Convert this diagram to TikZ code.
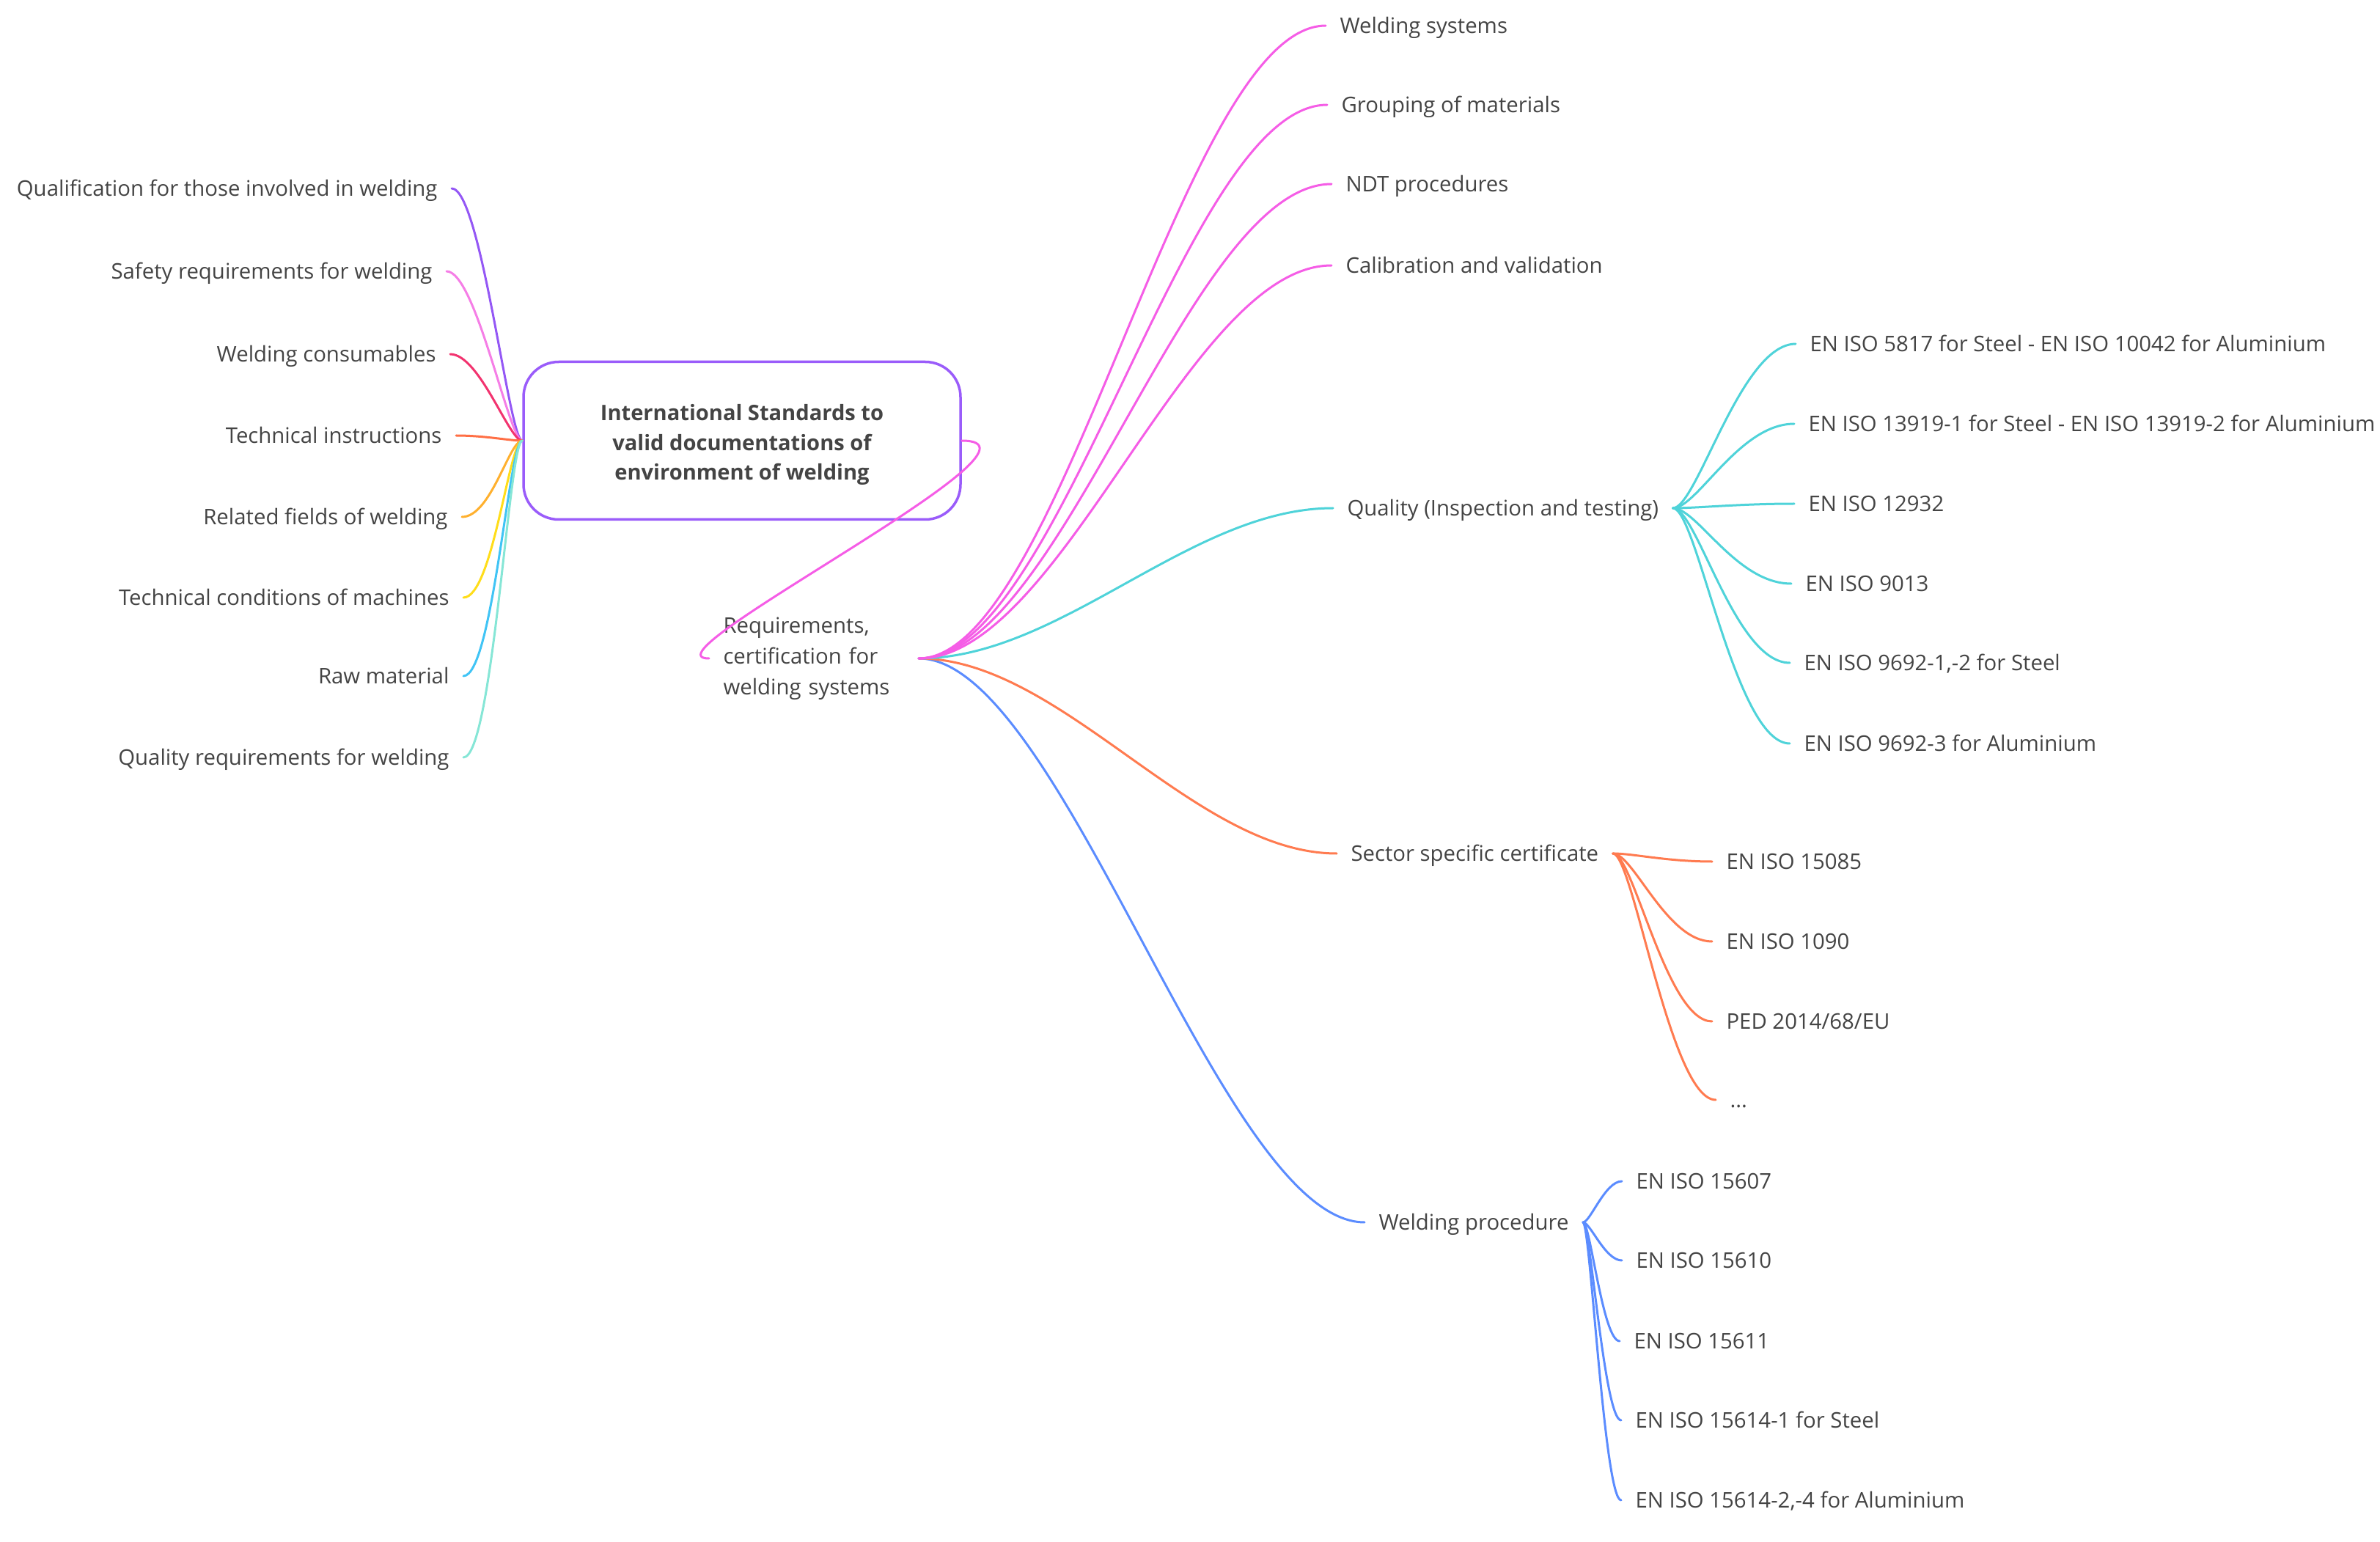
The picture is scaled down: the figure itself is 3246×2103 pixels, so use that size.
\documentclass[tikz,border=0pt]{standalone}
\usepackage{fontspec}
\setmainfont{Open Sans}
\usepackage{tikz}

\definecolor{ink}{HTML}{444444}
\definecolor{boxline}{HTML}{9A5CFA}
\definecolor{cPurple}{HTML}{9457F5}
\definecolor{cPink}{HTML}{F57EE6}
\definecolor{cCrimson}{HTML}{F2336F}
\definecolor{cRed}{HTML}{FF6F45}
\definecolor{cOrange}{HTML}{FFB02E}
\definecolor{cYellow}{HTML}{FFDD1A}
\definecolor{cSky}{HTML}{40C4F5}
\definecolor{cAqua}{HTML}{86E6D6}
\definecolor{cMagenta}{HTML}{F55DE6}
\definecolor{cCyan}{HTML}{4FD3D9}
\definecolor{cCoral}{HTML}{FF7B50}
\definecolor{cBlue}{HTML}{5B8CFF}

\begin{document}
\begin{tikzpicture}[x=0.1mm,y=-0.1mm,
  every node/.style={font=\fontsize{8.35}{11.95}\selectfont, text=ink, inner ysep=0pt, inner xsep=1.8mm},
  leaf/.style={text height=6pt, text depth=0pt},
  bough/.style={out=0,in=180,out distance=19.5mm,in distance=19.5mm},
  twig/.style 2 args={out=0,in=180,out distance=#1,in distance=#2},
  back/.style 2 args={out=180,in=0,out distance=#1,in distance=#2},
  line width=0.3mm, line cap=round]

\useasboundingbox (0,0) rectangle (3246,2103);

% central topic
\node (root) [draw=boxline, line width=0.35mm, rounded corners=4.8mm,
  minimum width=59.6mm, minimum height=21.5mm, align=center,
  font=\bfseries\fontsize{8.28}{11.6}\selectfont] at (1012,601)
  {\rule{0pt}{9.5pt}International Standards to\\valid documentations of\\environment of welding};

% left side
\node (qual)     [leaf,anchor=east] at (616,257)  {Qualification for those involved in welding};
\node (safety)   [leaf,anchor=east] at (609,370)  {Safety requirements for welding};
\node (consum)   [leaf,anchor=east] at (614,483)  {Welding consumables};
\node (techinst) [leaf,anchor=east] at (622,594)  {Technical instructions};
\node (related)  [leaf,anchor=east] at (630,705)  {Related fields of welding};
\node (techcond) [leaf,anchor=east] at (632,815)  {Technical conditions of machines};
\node (raw)      [leaf,anchor=east] at (632,922)  {Raw material};
\node (qualreq)  [leaf,anchor=east] at (632,1033) {Quality requirements for welding};

\foreach \n/\c in {qual/cPurple,safety/cPink,consum/cCrimson,techinst/cRed,
                   related/cOrange,techcond/cYellow,raw/cSky,qualreq/cAqua}
    \draw[\c] (root.west) to[back={1.8mm}{4mm}] (\n.east);

% right side
\node (req) [anchor=west, text width=24.7mm, align=left] at (967,898)
  {Requirements,\\certification for\\welding systems};
\draw[cMagenta] (root.east) to[out=0,in=180,out distance=15mm,in distance=10mm] (req.west);

\node (wsys)    [leaf,anchor=west] at (1808,35)   {Welding systems};
\node (group)   [leaf,anchor=west] at (1810,143)  {Grouping of materials};
\node (ndt)     [leaf,anchor=west] at (1816,251)  {NDT procedures};
\node (calib)   [leaf,anchor=west] at (1816,362)  {Calibration and validation};
\node (quality) [leaf,anchor=west] at (1818,693)  {Quality (Inspection and testing)};
\node (sector)  [leaf,anchor=west] at (1823,1164) {Sector specific certificate};
\node (wproc)   [leaf,anchor=west] at (1861,1667) {Welding procedure};

\draw[cBlue]  (req.east) to[bough] (wproc.west);
\draw[cCoral] (req.east) to[bough] (sector.west);
\draw[cCyan]  (req.east) to[bough] (quality.west);
\foreach \n in {wsys,group,ndt,calib}
    \draw[cMagenta] (req.east) to[bough] (\n.west);

% quality
\node (q5817)   [leaf,anchor=west] at (2449,469)  {EN ISO 5817 for Steel - EN ISO 10042 for Aluminium};
\node (q13919)  [leaf,anchor=west] at (2447,578)  {EN ISO 13919-1 for Steel - EN ISO 13919-2 for Aluminium};
\node (q12932)  [leaf,anchor=west] at (2447,687)  {EN ISO 12932};
\node (q9013)   [leaf,anchor=west] at (2443,796)  {EN ISO 9013};
\node (q9692a)  [leaf,anchor=west] at (2441,904)  {EN ISO 9692-1,-2 for Steel};
\node (q9692b)  [leaf,anchor=west] at (2441,1014) {EN ISO 9692-3 for Aluminium};

\foreach \n in {q5817,q13919,q12932,q9013,q9692a,q9692b}
    \draw[cCyan] (quality.east) to[twig={3.3mm}{7.5mm}] (\n.west);

% sector
\node (s15085) [leaf,anchor=west] at (2335,1175) {EN ISO 15085};
\node (s1090)  [leaf,anchor=west] at (2335,1284) {EN ISO 1090};
\node (sped)   [leaf,anchor=west] at (2335,1393) {PED 2014/68/EU};
\node (sdots)  [leaf,anchor=west] at (2340,1500) {...};

\foreach \n in {s15085,s1090,sped,sdots}
    \draw[cCoral] (sector.east) to[twig={2.8mm}{6.2mm}] (\n.west);

% welding procedure
\node (w15607)  [leaf,anchor=west] at (2212,1611) {EN ISO 15607};
\node (w15610)  [leaf,anchor=west] at (2212,1719) {EN ISO 15610};
\node (w15611)  [leaf,anchor=west] at (2209,1829) {EN ISO 15611};
\node (w15614a) [leaf,anchor=west] at (2211,1937) {EN ISO 15614-1 for Steel};
\node (w15614b) [leaf,anchor=west] at (2211,2046) {EN ISO 15614-2,-4 for Aluminium};

\foreach \n in {w15607,w15610,w15611,w15614a,w15614b}
    \draw[cBlue] (wproc.east) to[twig={1mm}{2.3mm}] (\n.west);

\end{tikzpicture}
\end{document}
